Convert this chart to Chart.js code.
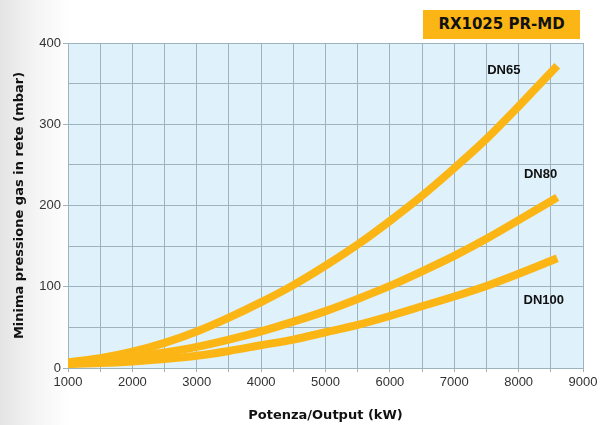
<!DOCTYPE html>
<html>
<head>
<meta charset="utf-8">
<script src="https://cdn.jsdelivr.net/npm/chart.js@4.4.0/dist/chart.umd.min.js"></script>
<style>
  html, body { margin: 0; padding: 0; }
  body {
    width: 601px; height: 425px; overflow: hidden; position: relative;
    background: linear-gradient(to right, #e4e4e4 0px, #f4f4f4 35px, #ffffff 70px);
    font-family: "Liberation Sans", Arial, sans-serif;
  }
  #wrap { position: absolute; left: 0; top: 0; width: 601px; height: 425px; }
  #title {
    position: absolute; left: 423px; top: 10px; width: 157px; height: 29px;
    background: #fbb616; color: #111; font-weight: bold; font-size: 15px;
    font-family: "DejaVu Sans", sans-serif;
    line-height: 29px; text-align: center;
  }
</style>
</head>
<body>
<div id="wrap"><canvas id="mycanvas" width="601" height="425"></canvas></div>
<div id="title">RX1025 PR-MD</div>
<script>
var power = [1000, 1500, 2000, 2500, 3000, 3500, 4000, 4500, 5000, 5500, 6000, 6500, 7000, 7500, 8000, 8600];
var dn65  = [7, 12, 20, 31, 45, 62, 81, 102, 126, 152, 181, 212, 246, 282, 322, 372];
var dn80  = [6, 9, 13, 19, 26, 35, 45, 57, 70, 85, 101, 119, 138, 159, 182, 210];
var dn100 = [5, 6, 8, 11, 15, 21, 28, 35, 44, 53, 64, 76, 88, 101, 116, 135];
var seriesNames = ['DN65', 'DN80', 'DN100'];
// where the curve names sit, in data units
var labelX = [7770, 8340, 8390];
var labelY = [366, 238, 83];

function points(ys) {
	var out = [];
	for (var i in power) {
		out.push({x: power[i], y: ys[i]});
	}
	return out;
}

var lineColor = '#fbb616';
var gridColor = '#9fb3bf';
var boldFont = '"DejaVu Sans", sans-serif';

var plotBg = {
	id: 'plotBg',
	beforeDraw: function(chart) {
		var a = chart.chartArea, c = chart.ctx;
		c.save();
		c.fillStyle = '#dff1fb';
		c.fillRect(a.left, a.top, a.right - a.left, a.bottom - a.top);
		c.restore();
	}
};

var curveNames = {
	id: 'curveNames',
	afterDatasetsDraw: function(chart) {
		var c = chart.ctx;
		var xs = chart.scales.x, ys = chart.scales.y;
		c.save();
		c.fillStyle = '#111';
		c.font = 'bold 13px "Liberation Sans", Arial, sans-serif';
		c.textAlign = 'center';
		c.textBaseline = 'middle';
		for (var i in seriesNames) {
			c.fillText(seriesNames[i], xs.getPixelForValue(labelX[i]), ys.getPixelForValue(labelY[i]));
		}
		c.restore();
	}
};

function makeSet(name, ys) {
	return {
		label: name,
		data: points(ys),
		borderColor: lineColor,
		borderWidth: 8,
		borderCapStyle: 'butt',
		pointRadius: 0,
		cubicInterpolationMode: 'monotone',
		fill: false
	};
}

var ctx = document.getElementById('mycanvas');
var myChart = new Chart(ctx, {
	type: 'line',
	data: {
		datasets: [makeSet('DN65', dn65), makeSet('DN80', dn80), makeSet('DN100', dn100)]
	},
	options: {
		responsive: false,
		animation: false,
		layout: { padding: { top: 43, right: 18, left: 0, bottom: 0 } },
		plugins: { legend: { display: false }, tooltip: { enabled: false } },
		scales: {
			x: {
				type: 'linear',
				min: 1000, max: 9000,
				border: { color: gridColor, width: 1 },
				grid: { color: gridColor, lineWidth: 1, tickLength: 4, tickColor: gridColor },
				ticks: {
					stepSize: 500, autoSkip: false, maxRotation: 0,
					color: '#333', font: { size: 13, family: '"Liberation Sans", Arial, sans-serif' },
					padding: 3,
					callback: function(v) { return v % 1000 === 0 ? String(v) : ''; }
				},
				title: {
					display: true, text: 'Potenza/Output (kW)', color: '#111',
					font: { size: 13, weight: 'bold', family: boldFont },
					padding: { top: 12, bottom: 2 }
				},
				afterFit: function(s) { s.height = 57; }
			},
			y: {
				min: 0, max: 400,
				border: { color: gridColor, width: 1 },
				grid: {
					color: gridColor, lineWidth: 1, tickLength: 5,
					tickColor: function(c) { return c.tick && c.tick.value % 100 === 0 ? gridColor : 'rgba(0,0,0,0)'; }
				},
				ticks: {
					stepSize: 50, autoSkip: false,
					color: '#333', font: { size: 13, family: '"Liberation Sans", Arial, sans-serif' },
					padding: 2,
					callback: function(v) { return v % 100 === 0 ? String(v) : ''; }
				},
				title: {
					display: true, text: 'Minima pressione gas in rete (mbar)', color: '#111',
					font: { size: 13, weight: 'bold', family: boldFont },
					padding: { top: 12, bottom: 4 }
				},
				afterFit: function(s) { s.width = 68; }
			}
		}
	},
	plugins: [plotBg, curveNames]
});
</script>
</body>
</html>
